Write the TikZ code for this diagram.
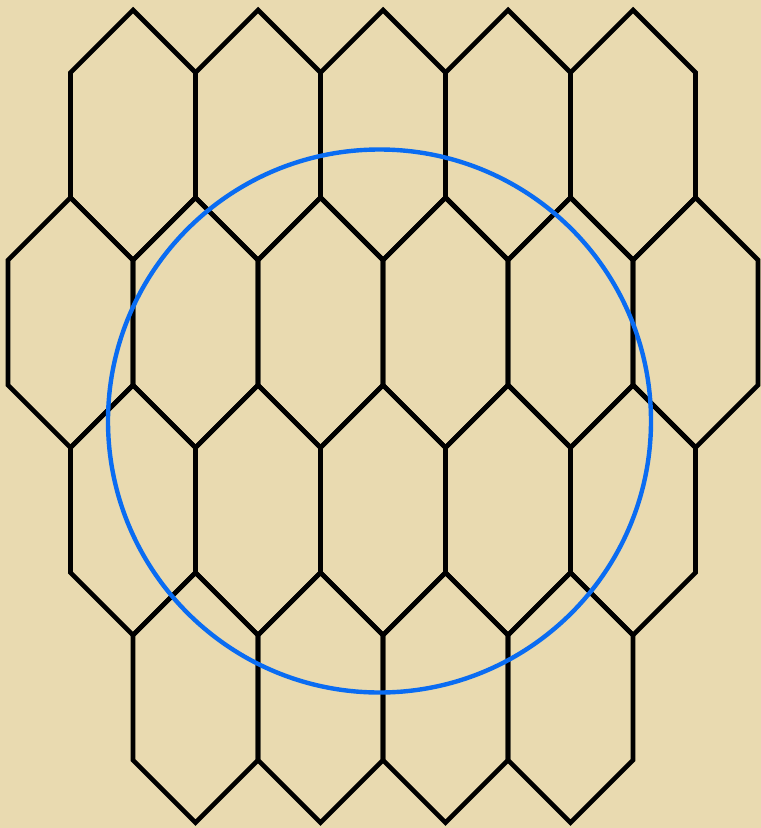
\documentclass[tikz,border=0pt]{standalone}
\usetikzlibrary{calc}
\definecolor{parch}{HTML}{E9DAB0}
\definecolor{ringblue}{HTML}{0A6CF2}
\tikzset{
  hexline/.style={draw=black, line width=4.6pt, line join=miter},
  ringline/.style={draw=ringblue, line width=4.4pt}
}
\newcommand\hexcell[2]{%
  \draw[hexline] (#1-62.5,#2-62.5) -- (#1,#2-125) -- (#1+62.5,#2-62.5)
    -- (#1+62.5,#2+62.5) -- (#1,#2+125) -- (#1-62.5,#2+62.5) -- cycle;}
\begin{document}
\begin{tikzpicture}[x=1pt,y=-1pt]
  \fill[parch] (0,0) rectangle (761,828);
  \useasboundingbox (0,0) rectangle (761,828);
  % row 1
  \foreach \cx in {133,258,383,508,633} {\hexcell{\cx}{135}}
  % row 2
  \foreach \cx in {70.5,195.5,320.5,445.5,570.5,695.5} {\hexcell{\cx}{322.5}}
  % row 3
  \foreach \cx in {133,258,383,508,633} {\hexcell{\cx}{510}}
  % row 4
  \foreach \cx in {195.5,320.5,445.5,570.5} {\hexcell{\cx}{697.5}}
  % ring
  \draw[ringline] (379.5,421) circle[radius=271.5];
\end{tikzpicture}
\end{document}
